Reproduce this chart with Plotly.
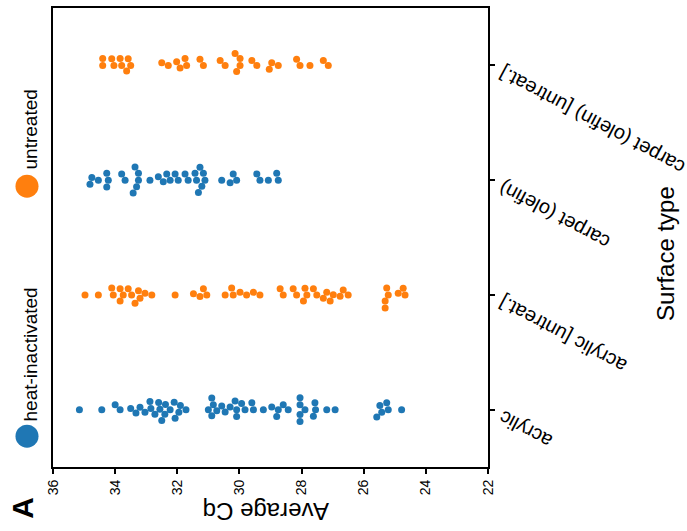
import numpy as np
import plotly.graph_objects as go

# ---------------- data ----------------
categories = ["acrylic", "acrylic [untreat.]", "carpet (olefin)", "carpet (olefin) [untreat.]"]
treatments = ["heat-inactivated", "untreated", "heat-inactivated", "untreated"]
legend_labels = ["heat-inactivated", "untreated"]

acrylic_hi = [35.15, 34.43, 34.00, 33.84, 33.50, 33.33, 33.20, 33.04, 32.88, 32.85,
              32.72, 32.60, 32.56, 32.50, 32.40, 32.38, 32.23, 32.10, 32.07, 31.95,
              31.90, 31.72, 31.00, 30.89, 30.89, 30.84, 30.73, 30.57, 30.46, 30.30,
              30.14, 30.09, 30.09, 29.93, 29.82, 29.60, 29.55, 29.23, 28.96, 28.80,
              28.75, 28.59, 28.43, 28.05, 28.05, 28.05, 28.05, 27.89, 27.62, 27.57,
              27.55, 27.19, 26.92, 25.58, 25.48, 25.42, 25.26, 25.21, 24.78]
acrylic_un = [34.97, 34.54, 34.11, 34.06, 33.84, 33.84, 33.74, 33.58, 33.47, 33.36,
              33.25, 33.20, 33.04, 32.82, 32.07, 31.48, 31.27, 31.16, 31.05, 30.46,
              30.25, 30.20, 29.98, 29.77, 29.55, 29.34, 28.69, 28.59, 28.27, 28.16,
              27.94, 27.89, 27.83, 27.62, 27.51, 27.30, 27.19, 27.08, 26.98, 26.76,
              26.66, 26.50, 25.31, 25.31, 25.26, 25.21, 24.89, 24.73, 24.67]
carpet_hi = [34.81, 34.75, 34.54, 34.27, 34.27, 34.22, 33.79, 33.68, 33.42, 33.36,
             33.31, 33.25, 33.25, 32.88, 32.61, 32.45, 32.34, 32.23, 32.07, 31.97,
             31.75, 31.65, 31.43, 31.38, 31.32, 31.27, 31.21, 31.16, 31.11, 30.57,
             30.30, 30.20, 30.09, 29.44, 29.34, 29.07, 28.80, 28.75]
carpet_un = [34.40, 34.40, 34.11, 34.04, 33.84, 33.79, 33.63, 33.58, 33.50, 32.50,
             32.29, 32.02, 31.91, 31.75, 31.70, 31.27, 31.16, 30.62, 30.46, 30.14,
             30.09, 29.98, 29.98, 29.60, 29.44, 29.04, 28.96, 28.75, 28.16, 28.05,
             27.73, 27.30, 27.14]
series = [acrylic_hi, acrylic_un, carpet_hi, carpet_un]

x_ticks = [36, 34, 32, 30, 28, 26, 24, 22]
colors = {"heat-inactivated": "#1f77b4", "untreated": "#ff7f0e"}

# ---------------- layout geometry ----------------
W, H = 687, 531
L, R, T, B = 53, 199, 6, 64
PW, PH = W - L - R, H - T - B
XR = [36, 22]
YR = [-0.5, 3.5]
px_per_x = PW / abs(XR[1] - XR[0])
px_per_y = PH / (YR[1] - YR[0])
MS = 7  # marker diameter px


def swarm(values, d, scale):
    vals = np.asarray(values, float)
    xs = vals * scale
    order = np.argsort(vals, kind="stable")
    placed = []
    offs = np.zeros(len(vals))
    for i in order:
        x = xs[i]
        neigh = [(px, py) for px, py in placed if abs(px - x) < d]
        cands = [0.0]
        for px, py in neigh:
            dy = np.sqrt(d * d - (px - x) ** 2)
            cands += [py + dy, py - dy]
        cands.sort(key=lambda c: (abs(c), -c))
        chosen = cands[0]
        for c in cands:
            if all((px - x) ** 2 + (py - c) ** 2 >= d * d - 1e-6 for px, py in neigh):
                chosen = c
                break
        offs[i] = chosen
        placed.append((x, chosen))
    return offs


fig = go.Figure()
for lab in legend_labels:
    xs, ys = [], []
    for ci, (vals, tr) in enumerate(zip(series, treatments)):
        if tr != lab:
            continue
        offs = swarm(vals, MS, px_per_x)
        xs += list(vals)
        ys += list(ci + offs / px_per_y)
    fig.add_trace(go.Scatter(x=xs, y=ys, mode="markers", name=lab,
                             marker=dict(color=colors[lab], size=MS, line=dict(width=0)),
                             showlegend=False))


def pxp(xp, yp):
    return (xp - L) / PW, (H - B - yp) / PH


FONT = "Liberation Sans, Arial, sans-serif"
ann = []
# category labels (upside down, tilted)
for ci, c in enumerate(categories):
    ann.append(dict(text=c, x=1, xref="paper", y=ci, yref="y", xshift=5, yshift=6,
                    xanchor="left", yanchor="top", textangle=-152, showarrow=False,
                    font=dict(family=FONT, size=20, color="black")))
# axis titles
x0, y0 = pxp(266, 511)
ann.append(dict(text="Average Cq", x=x0, y=y0, xref="paper", yref="paper", textangle=180,
                showarrow=False, xanchor="center", yanchor="middle",
                font=dict(family=FONT, size=24, color="black")))
x0, y0 = pxp(666, 253)
ann.append(dict(text="Surface type", x=x0, y=y0, xref="paper", yref="paper", textangle=-90,
                showarrow=False, xanchor="center", yanchor="middle",
                font=dict(family=FONT, size=24, color="black")))
# panel letter
x0, y0 = pxp(23, 508)
ann.append(dict(text="<b>A</b>", x=x0, y=y0, xref="paper", yref="paper", textangle=-90,
                showarrow=False, xanchor="center", yanchor="middle",
                font=dict(family=FONT, size=30, color="black")))
# legend
shapes = []
leg_pos = {"heat-inactivated": (436, 354), "untreated": (185, 128)}
for lab in legend_labels:
    cy, ty = leg_pos[lab]
    xa, ya = pxp(27, cy)
    shapes.append(dict(type="circle", xref="paper", yref="paper", xsizemode="pixel",
                       ysizemode="pixel", xanchor=xa, yanchor=ya, x0=-11.5, x1=11.5,
                       y0=-11.5, y1=11.5, fillcolor=colors[lab], line=dict(width=0)))
    xa, ya = pxp(30, ty)
    ann.append(dict(text=lab, x=xa, y=ya, xref="paper", yref="paper", textangle=-90,
                    showarrow=False, xanchor="center", yanchor="middle",
                    font=dict(family=FONT, size=19, color="black")))

fig.update_layout(
    width=W, height=H, margin=dict(l=L, r=R, t=T, b=B),
    paper_bgcolor="white", plot_bgcolor="white",
    annotations=ann, shapes=shapes,
    font=dict(family=FONT, color="black"),
    xaxis=dict(range=XR, tickvals=x_ticks, ticktext=[str(v) for v in x_ticks],
               tickangle=-90, ticks="outside", ticklen=5, tickwidth=1.5, tickcolor="black",
               showline=True, linecolor="black", linewidth=2, mirror=True,
               showgrid=False, zeroline=False, tickfont=dict(size=14, family=FONT)),
    yaxis=dict(range=YR, tickvals=list(range(len(categories))), side="right",
               showticklabels=False, ticks="outside", ticklen=5, tickwidth=1.5,
               tickcolor="black", showline=True, linecolor="black", linewidth=2,
               mirror=True, showgrid=False, zeroline=False),
)

fig.write_html("out.html")
